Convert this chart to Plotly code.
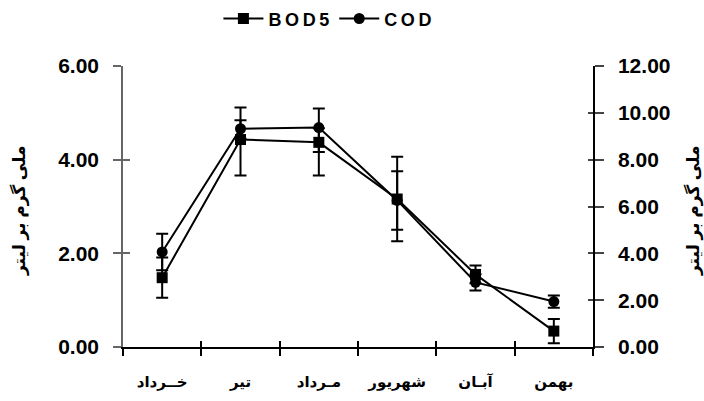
import plotly.graph_objects as go

# Months (Persian calendar), left to right
months = ["خــرداد", "تیر", "مـرداد", "شهریور", "آبـان", "بهمن"]

# BOD5 (left axis) with upper / lower error
bod = [1.48, 4.43, 4.37, 3.16, 1.55, 0.34]
bod_err_plus = [0.43, 0.41, 0.30, 0.90, 0.19, 0.26]
bod_err_minus = [0.43, 0.77, 0.71, 0.90, 0.19, 0.26]

# COD (right axis) with upper / lower error
cod = [4.06, 9.32, 9.37, 6.26, 2.76, 1.94]
cod_err_plus = [0.78, 0.91, 0.82, 1.25, 0.35, 0.26]
cod_err_minus = [0.78, 0.43, 1.04, 1.25, 0.35, 0.26]

left_ticks = [0, 2, 4, 6]
right_ticks = [0, 2, 4, 6, 8, 10, 12]
axis_title = "ملی گرم بر لیتر"
series_names = ["B\u2009O\u2009D\u20095", "C\u2009O\u2009D"]

FONT = "Arial, Liberation Sans, DejaVu Sans, sans-serif"
BLACK = "#000000"

fig = go.Figure()

fig.add_trace(go.Scatter(
    x=months, y=bod, name=series_names[0], mode="lines+markers",
    line=dict(color=BLACK, width=2),
    marker=dict(symbol="square", size=11, color=BLACK),
    error_y=dict(type="data", symmetric=False, array=bod_err_plus,
                 arrayminus=bod_err_minus, color=BLACK, thickness=2, width=6),
    yaxis="y",
))
fig.add_trace(go.Scatter(
    x=months, y=cod, name=series_names[1], mode="lines+markers",
    line=dict(color=BLACK, width=2),
    marker=dict(symbol="circle", size=11, color=BLACK),
    error_y=dict(type="data", symmetric=False, array=cod_err_plus,
                 arrayminus=cod_err_minus, color=BLACK, thickness=2, width=6),
    yaxis="y2",
))
# carriers for the inner half of the crossing tick marks
fig.add_trace(go.Scatter(x=months, y=bod, mode="none", showlegend=False,
                         hoverinfo="skip", xaxis="x2", yaxis="y3"))
fig.add_trace(go.Scatter(x=months, y=cod, mode="none", showlegend=False,
                         hoverinfo="skip", xaxis="x2", yaxis="y4"))

tickfont = dict(family=FONT, size=21, color=BLACK, weight="bold")

fig.update_layout(
    width=704, height=401,
    margin=dict(l=123, r=111, t=66, b=54, autoexpand=False),
    paper_bgcolor="white", plot_bgcolor="white",
    showlegend=True,
    legend=dict(orientation="h", x=0.436, xanchor="center", y=1.168, yanchor="middle",
                font=dict(family=FONT, size=18, color=BLACK, weight="bold"),
                bgcolor="rgba(0,0,0,0)", itemwidth=40, tracegroupgap=0),
    xaxis=dict(
        type="category", categoryorder="array", categoryarray=months,
        range=[-0.5, 5.5], tickson="boundaries", automargin=False,
        showline=True, linecolor=BLACK, linewidth=1.5,
        ticks="outside", ticklen=7, tickwidth=1.5, tickcolor=BLACK,
        tickfont=dict(family=FONT, size=15, color=BLACK, weight="bold"),
        ticklabelstandoff=20,
        showgrid=False, zeroline=False, fixedrange=True,
    ),
    xaxis2=dict(
        type="category", categoryorder="array", categoryarray=months,
        range=[-0.5, 5.5], tickson="boundaries", overlaying="x", anchor="y",
        ticks="inside", ticklen=6, tickwidth=1.5, tickcolor=BLACK, automargin=False,
        showticklabels=False, showline=False, showgrid=False, zeroline=False,
    ),
    yaxis=dict(
        range=[0, 6], tickvals=left_ticks, ticktext=[f"{v:.2f}" for v in left_ticks],
        showline=True, linecolor="#666666", linewidth=1.5, automargin=False,
        ticks="outside", ticklen=8, tickwidth=1.5, tickcolor="#666666",
        tickfont=tickfont, ticklabelstandoff=10,
        showgrid=False, zeroline=False,
    ),
    yaxis3=dict(
        range=[0, 6], tickvals=left_ticks, overlaying="y", side="left", anchor="x",
        ticks="inside", ticklen=7, tickwidth=1.5, tickcolor="#666666", automargin=False,
        showticklabels=False, showline=False, showgrid=False, zeroline=False,
    ),
    yaxis2=dict(
        range=[0, 12], tickvals=right_ticks, ticktext=[f"{v:.2f}" for v in right_ticks],
        overlaying="y", side="right", anchor="x", automargin=False,
        showline=True, linecolor=BLACK, linewidth=1.5,
        ticks="outside", ticklen=9, tickwidth=1.5, tickcolor="#444444",
        tickfont=tickfont, ticklabelstandoff=10,
        showgrid=False, zeroline=False,
    ),
    yaxis4=dict(
        range=[0, 12], tickvals=right_ticks, overlaying="y", side="right", anchor="x",
        ticks="inside", ticklen=5, tickwidth=1.5, tickcolor="#444444", automargin=False,
        showticklabels=False, showline=False, showgrid=False, zeroline=False,
    ),
    annotations=[
        dict(text=axis_title, textangle=-90, xref="paper", yref="paper",
             x=-0.219, y=0.484, xanchor="center", yanchor="middle", showarrow=False,
             font=dict(family=FONT, size=17, color=BLACK, weight="bold")),
        dict(text=axis_title, textangle=-90, xref="paper", yref="paper",
             x=1.215, y=0.484, xanchor="center", yanchor="middle", showarrow=False,
             font=dict(family=FONT, size=17, color=BLACK, weight="bold")),
    ],
)

fig.write_html("out.html")
